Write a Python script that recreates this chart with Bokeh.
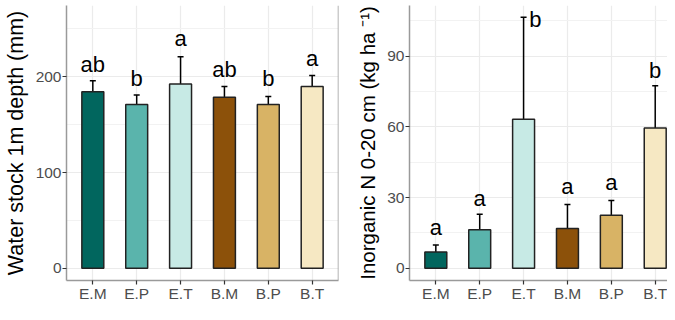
from bokeh.plotting import figure
from bokeh.models import (ColumnDataSource, FixedTicker, SingleIntervalTicker,
                          Range1d, Span, Whisker, TeeHead)
from bokeh.layouts import row
from bokeh.embed import file_html
from bokeh.resources import INLINE
from bokeh.core.properties import value

# ---------------- data ----------------
categories = ["E.M", "E.P", "E.T", "B.M", "B.P", "B.T"]
colors = ["#01665E", "#5AB4AC", "#C7EAE5", "#8C510A", "#D8B365", "#F6E8C3"]

water_mean = [184.3, 171.2, 192.5, 178.8, 171.2, 189.9]
water_upper = [195.8, 181.0, 221.0, 189.9, 179.4, 201.3]
water_letters = ["ab", "b", "a", "ab", "b", "a"]
water_label_x = [1, 2, 3, 4, 5, 6]
water_label_y = [204.9, 190.2, 231.4, 199.3, 190.2, 210.8]

n_mean = [6.9, 16.3, 63.2, 16.9, 22.5, 59.5]
n_upper = [9.9, 22.9, 106.5, 27.1, 28.8, 77.4]
n_letters = ["a", "a", "b", "a", "a", "b"]
n_label_x = [1, 2, 3.27, 4, 5, 6]
n_label_y = [13.9, 26.1, 102.1, 31.2, 32.8, 80.6]

water_ticks_interval = 100
n_ticks_interval = 30

FONT = "Liberation Sans"
AXIS_GRAY = "#9A9A9A"
TICK_COLOR = "#333333"
LABEL_COLOR = "#4D4D4D"


def make_panel(means, uppers, letters, lab_x, lab_y, y_start, y_end, interval,
               ylabel, title_size, frame_w, border_left, x_end, right_border):
    xs = list(range(1, len(categories) + 1))
    src = ColumnDataSource(dict(x=xs, top=means, upper=uppers, color=colors))
    lab = ColumnDataSource(dict(x=lab_x, y=lab_y, t=letters))

    p = figure(frame_width=frame_w, height=304, output_backend="svg", toolbar_location=None,
               x_range=Range1d(0.4, x_end), y_range=Range1d(y_start, y_end),
               min_border_left=border_left, min_border_right=2 if right_border else 0,
               min_border_top=5, min_border_bottom=0)
    p.outline_line_color = None
    p.background_fill_color = "white"
    p.border_fill_color = "white"

    # grid
    p.xgrid.grid_line_color = "#EBEBEB"
    p.xgrid.grid_line_width = 1.2
    p.ygrid.grid_line_color = "#EBEBEB"
    p.ygrid.grid_line_width = 1.2
    p.ygrid.minor_grid_line_color = "#F2F2F2"
    p.ygrid.minor_grid_line_width = 1

    # axes
    p.xaxis.ticker = FixedTicker(ticks=xs, minor_ticks=[])
    p.xaxis.major_label_overrides = {i + 1: c for i, c in enumerate(categories)}
    p.yaxis.ticker = SingleIntervalTicker(interval=interval, num_minor_ticks=2)
    for ax in (p.xaxis[0], p.yaxis[0]):
        ax.axis_line_color = AXIS_GRAY
        ax.axis_line_width = 1.5
        ax.major_tick_line_color = TICK_COLOR
        ax.major_tick_line_width = 1.2
        ax.major_tick_out = 4
        ax.major_tick_in = 0
        ax.minor_tick_line_color = None
        ax.major_label_text_font = FONT
        ax.major_label_text_font_size = "15.5px"
        ax.major_label_text_color = LABEL_COLOR
        ax.major_label_standoff = 1
    p.xaxis.major_label_text_line_height = 1.0
    p.xaxis.axis_label = None
    p.xaxis.axis_label_standoff = 0
    p.xaxis.major_label_standoff = 0
    p.yaxis.axis_label = ylabel
    p.yaxis.axis_label_text_font = FONT
    p.yaxis.axis_label_text_font_size = title_size
    p.yaxis.axis_label_text_font_style = "normal"
    p.yaxis.axis_label_text_color = "black"
    p.yaxis.axis_label_standoff = 5

    if right_border:
        p.add_layout(Span(location=x_end, dimension="height",
                          line_color=AXIS_GRAY, line_width=1.5))

    # error bars (upper only)
    w = Whisker(source=src, base="x", lower="top", upper="upper",
                line_color="black", line_width=1.5,
                upper_head=TeeHead(size=6, line_color="black", line_width=1.5),
                lower_head=None)
    p.add_layout(w)

    p.vbar(x="x", width=0.5, top="top", bottom=0, source=src,
           fill_color="color", line_color="#222222", line_width=1.5)

    p.text(x="x", y="y", text="t", source=lab, text_font=value(FONT),
           text_font_size="22px", text_align="center", y_offset=-8,
           text_baseline="alphabetic", text_color="black")
    return p


p1 = make_panel(water_mean, water_upper, water_letters, water_label_x, water_label_y,
                -12.7, 274.5, water_ticks_interval,
                "Water stock 1m depth (mm)", "21.5px", 272, 58, 6.6, True)
p2 = make_panel(n_mean, n_upper, n_letters, n_label_x, n_label_y,
                -5.2, 111.5, n_ticks_interval,
                "Inorganic N 0-20 cm (kg ha \u207b\u00b9)", "20.5px", 258, 69, 6.28, False)

layout = row(p1, p2)
open("out.html", "w").write(file_html(layout, INLINE))
